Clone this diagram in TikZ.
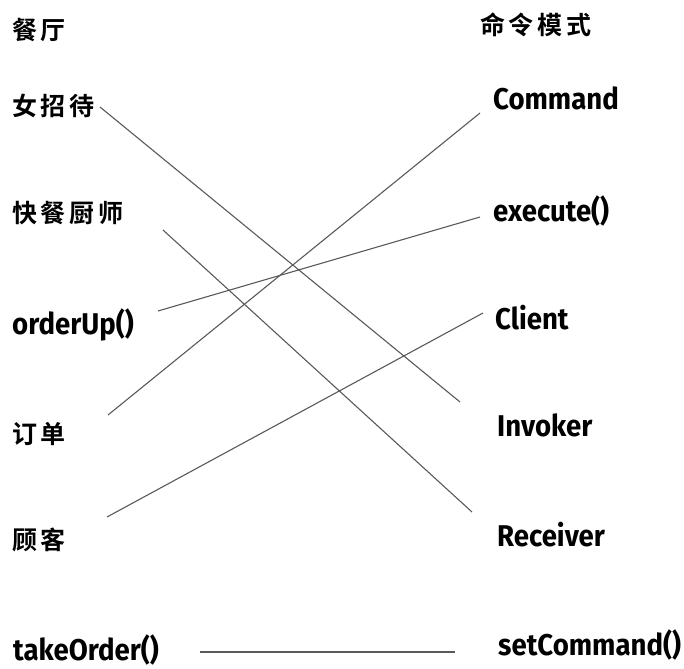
\documentclass[tikz,border=0pt]{standalone}
\usepackage{fontspec}
\newfontfamily\cjk{Noto Sans CJK SC}[BoldFont=* Bold, LetterSpace=15]
\newfontfamily\codef{Fira Sans}[FakeStretch=0.92]
\usetikzlibrary{positioning}

\begin{document}
\begin{tikzpicture}[x=1pt, y=-1pt,
    zh/.style={anchor=west, inner sep=0pt, font=\cjk\bfseries\fontsize{25}{25}\selectfont},
    code/.style={anchor=west, inner sep=0pt, font=\codef\bfseries\fontsize{30}{30}\selectfont},
    link/.style={line width=1.1pt, gray!70!black}]
  \useasboundingbox (0,0) rectangle (684,668);

  % Left column: restaurant
  \node[zh] (rest) at (12,30) {餐厅};
  \node[zh] (waitress) at (12,106) {女招待};
  \node[zh] (cook) at (12,213) {快餐厨师};
  \node[code] (orderup) at (12,325) {orderUp()};
  \node[zh] (order) at (12,434) {订单};
  \node[zh] (customer) at (12,540) {顾客};
  \node[code] (takeorder) at (13,650) {takeOrder()};

  % Right column: command pattern
  \node[zh] (pattern) at (480,25) {命令模式};
  \node[code] (command) at (493,98) {Command};
  \node[code] (execute) at (493,211) {execute()};
  \node[code] (client) at (495,318) {Client};
  \node[code] (invoker) at (497,425) {Invoker};
  \node[code] (receiver) at (497,535) {Receiver};
  \node[code] (setcmd) at (498,645) {setCommand()};

  % Matching lines
  \draw[link] ([shift={(88,1)}]waitress.west) -- ([shift={(-37,-23)}]invoker.west);
  \draw[link] ([shift={(151,17)}]cook.west) -- ([shift={(-25,-23)}]receiver.west);
  \draw[link] ([shift={(146,-14)}]orderup.west) -- ([shift={(-13,6)}]execute.west);
  \draw[link] ([shift={(96,-19)}]order.west) -- ([shift={(-13,15)}]command.west);
  \draw[link] ([shift={(95,-23)}]customer.west) -- ([shift={(-12,-5)}]client.west);
  \draw[link] ([shift={(187,2)}]takeorder.west) -- ([shift={(-43,7)}]setcmd.west);
\end{tikzpicture}
\end{document}
